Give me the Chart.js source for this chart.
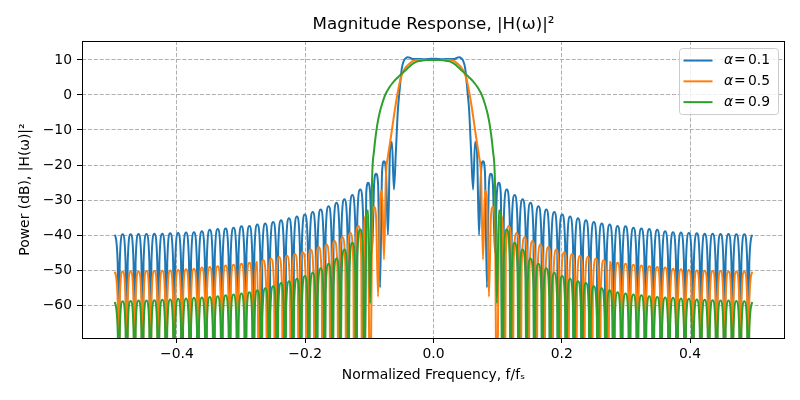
<!DOCTYPE html>
<html>
<head>
<meta charset="utf-8">
<title>Magnitude Response</title>
<script src="https://cdn.jsdelivr.net/npm/chart.js@4/dist/chart.umd.min.js"></script>
<style>
  html, body { margin: 0; padding: 0; background: #fff; }
  #wrap { width: 800px; height: 400px; }
</style>
</head>
<body>
<div id="wrap"><canvas id="chart" width="800" height="400"></canvas></div>
<script>
// positive half of the frequency axis (f/fs); the response is symmetric about 0.
// sidelobe samples: null, shoulder, peak, shoulder, null ...
const freqs = [
  0, 0.0031, 0.0062, 0.0093, 0.0123, 0.0154, 0.0185, 0.0216, 0.0247, 0.0278,
  0.0309, 0.0340, 0.0370, 0.0401, 0.0432, 0.0463, 0.0494, 0.0525, 0.0556, 0.0586,
  0.0617, 0.0648, 0.0679, 0.0710, 0.0741, 0.0772, 0.0802, 0.0833, 0.0864, 0.0895,
  0.0926, 0.0957, 0.0988, 0.1019, 0.1049, 0.1080,
  0.1096, 0.1142, 0.1188, 0.1204, 0.1220, 0.1265, 0.1311, 0.1327,
  0.1343, 0.1389, 0.1435, 0.1451, 0.1466, 0.1512, 0.1558, 0.1574,
  0.1590, 0.1636, 0.1682, 0.1698, 0.1713, 0.1759, 0.1805, 0.1821,
  0.1837, 0.1883, 0.1929, 0.1944, 0.1960, 0.2006, 0.2052, 0.2068,
  0.2084, 0.2130, 0.2175, 0.2191, 0.2207, 0.2253, 0.2299, 0.2315,
  0.2331, 0.2377, 0.2422, 0.2438, 0.2454, 0.2500, 0.2546, 0.2562,
  0.2578, 0.2623, 0.2669, 0.2685, 0.2701, 0.2747, 0.2793, 0.2809,
  0.2825, 0.2870, 0.2916, 0.2932, 0.2948, 0.2994, 0.3040, 0.3056,
  0.3071, 0.3117, 0.3163, 0.3179, 0.3195, 0.3241, 0.3287, 0.3302,
  0.3318, 0.3364, 0.3410, 0.3426, 0.3442, 0.3488, 0.3534, 0.3549,
  0.3565, 0.3611, 0.3657, 0.3673, 0.3689, 0.3735, 0.3780, 0.3796,
  0.3812, 0.3858, 0.3904, 0.3920, 0.3936, 0.3981, 0.4027, 0.4043,
  0.4059, 0.4105, 0.4151, 0.4167, 0.4183, 0.4228, 0.4274, 0.4290,
  0.4306, 0.4352, 0.4398, 0.4414, 0.4429, 0.4475, 0.4521, 0.4537,
  0.4553, 0.4599, 0.4645, 0.4660, 0.4676, 0.4722, 0.4768, 0.4784,
  0.4800, 0.4846, 0.4892, 0.4907, 0.4923, 0.4969
];

// the alpha = 0.5 sidelobes sit about a quarter lobe further out up to f ~ 0.27
const freqs05 = [
  0, 0.0031, 0.0062, 0.0093, 0.0123, 0.0154, 0.0185, 0.0216, 0.0247, 0.0278,
  0.0309, 0.0340, 0.0370, 0.0401, 0.0432, 0.0463, 0.0494, 0.0525, 0.0556, 0.0586,
  0.0617, 0.0648, 0.0679, 0.0710, 0.0741, 0.0772, 0.0802, 0.0833, 0.0864, 0.0895,
  0.0926, 0.0957, 0.0988, 0.1019, 0.1049, 0.1080,
  0.1111, 0.1127, 0.1173, 0.1219, 0.1235, 0.1250, 0.1296, 0.1342,
  0.1358, 0.1374, 0.1420, 0.1466, 0.1481, 0.1497, 0.1543, 0.1589,
  0.1605, 0.1621, 0.1667, 0.1713, 0.1728, 0.1744, 0.1790, 0.1836,
  0.1852, 0.1868, 0.1914, 0.1959, 0.1975, 0.1991, 0.2037, 0.2083,
  0.2099, 0.2115, 0.2160, 0.2206, 0.2222, 0.2238, 0.2284, 0.2330,
  0.2346, 0.2362, 0.2407, 0.2453, 0.2469, 0.2485, 0.2531, 0.2577,
  0.2593, 0.2608, 0.2654, 0.2700, 0.2716, 0.2747, 0.2778, 0.2809,
  0.2825, 0.2870, 0.2916, 0.2932, 0.2948, 0.2994, 0.3040, 0.3056,
  0.3071, 0.3117, 0.3163, 0.3179, 0.3195, 0.3241, 0.3287, 0.3302,
  0.3318, 0.3364, 0.3410, 0.3426, 0.3442, 0.3488, 0.3534, 0.3549,
  0.3565, 0.3611, 0.3657, 0.3673, 0.3689, 0.3735, 0.3780, 0.3796,
  0.3812, 0.3858, 0.3904, 0.3920, 0.3936, 0.3981, 0.4027, 0.4043,
  0.4059, 0.4105, 0.4151, 0.4167, 0.4183, 0.4228, 0.4274, 0.4290,
  0.4306, 0.4352, 0.4398, 0.4414, 0.4429, 0.4475, 0.4521, 0.4537,
  0.4553, 0.4599, 0.4645, 0.4660, 0.4676, 0.4722, 0.4768, 0.4784,
  0.4800, 0.4846, 0.4892, 0.4907, 0.4923, 0.4969
];

// power in dB at each frequency above (nulls fall well below the plot)
const alpha01 = [
  10.35, 10.35, 10.3, 10.25, 10.2, 10.2, 10.25, 10.3, 10.3, 10.25,
  10.25, 10.35, 10.65, 10.75, 10.5, 9.7, 7.6, 2.0, -4.5, -16, -27,
  -13.4, -16.5, -40, -22, -18.9, -22, -55, -25.5, -22.5, -25.5, -45, -28, -25.1, -28.1, -100,
  -35.3, -27.0, -35.3, -100,
  -36.9, -28.6, -36.9, -100,
  -38.1, -29.8, -38.1, -100,
  -39.1, -30.8, -39.1, -100,
  -40.1, -31.8, -40.1, -100,
  -41.0, -32.7, -41.0, -100,
  -41.7, -33.4, -41.7, -100,
  -42.4, -34.1, -42.4, -100,
  -43.0, -34.7, -43.0, -100,
  -43.5, -35.2, -43.5, -100,
  -44.1, -35.8, -44.1, -100,
  -44.6, -36.3, -44.6, -100,
  -45.0, -36.7, -45.0, -100,
  -45.3, -37.0, -45.3, -100,
  -45.7, -37.4, -45.7, -100,
  -45.8, -37.5, -45.8, -100,
  -46.2, -37.9, -46.2, -100,
  -46.4, -38.1, -46.4, -100,
  -46.6, -38.3, -46.6, -100,
  -46.8, -38.5, -46.8, -100,
  -47.2, -38.9, -47.2, -100,
  -47.5, -39.2, -47.5, -100,
  -47.6, -39.3, -47.6, -100,
  -47.7, -39.4, -47.7, -100,
  -47.8, -39.5, -47.8, -100,
  -47.9, -39.6, -47.9, -100,
  -47.9, -39.6, -47.9, -100,
  -48.0, -39.7, -48.0, -100,
  -48.0, -39.7, -48.0, -100,
  -48.1, -39.8, -48.1, -100,
  -48.1, -39.8, -48.1, -100,
  -48.2, -39.9
];

const alpha05 = [
  10.0, 10.0, 10.0, 10.0, 10.0, 10.0, 10.0, 10.0, 10.0, 9.95,
  9.8, 9.5, 9.0, 8.5, 7.9, 7.0, 5.7, 3.7, 0.9, -2.3,
  -6.0, -10.0, -13.8, -17.5, -23, -47,
  -27.3, -30.3, -57.6, -35, -32.0, -35, -100, -38.5, -34.4, -38.5,
  -100, -45.7, -37.4, -45.7,
  -100, -47.7, -39.4, -47.7,
  -100, -48.9, -40.6, -48.9,
  -100, -50.0, -41.7, -50.0,
  -100, -51.0, -42.7, -51.0,
  -100, -51.7, -43.4, -51.7,
  -100, -52.4, -44.1, -52.4,
  -100, -53.2, -44.9, -53.2,
  -100, -53.7, -45.4, -53.7,
  -100, -54.2, -45.9, -54.2,
  -100, -54.6, -46.3, -54.6,
  -100, -55.1, -46.8, -55.1,
  -100, -55.5, -47.2, -55.5,
  -100, -47.6, -50.6, -100,
  -56.2, -47.9, -56.2, -100,
  -56.5, -48.2, -56.5, -100,
  -56.8, -48.5, -56.8, -100,
  -57.0, -48.7, -57.0, -100,
  -57.2, -48.9, -57.2, -100,
  -57.4, -49.1, -57.4, -100,
  -57.6, -49.3, -57.6, -100,
  -57.9, -49.6, -57.9, -100,
  -58.1, -49.8, -58.1, -100,
  -58.3, -50.0, -58.3, -100,
  -58.4, -50.1, -58.4, -100,
  -58.5, -50.2, -58.5, -100,
  -58.6, -50.3, -58.6, -100,
  -58.6, -50.3, -58.6, -100,
  -58.7, -50.4, -58.7, -100,
  -58.7, -50.4, -58.7, -100,
  -58.7, -50.4, -58.7, -100,
  -58.8, -50.5
];

const alpha09 = [
  10.0, 10.0, 10.0, 10.0, 9.95, 9.9, 9.8, 9.7, 9.6, 9.4,
  9.1, 8.7, 8.2, 7.7, 7.1, 6.6, 6.1, 5.6, 5.0, 4.5,
  3.9, 3.2, 2.4, 1.5, 0.5, -0.9, -2.6, -4.6, -7.2, -10.8,
  -15.8, -24, -59.5, -33.0, -34.0, -100,
  -46.7, -38.4, -46.7, -100,
  -50.5, -42.2, -50.5, -100,
  -52.4, -44.1, -52.4, -100,
  -55.0, -46.7, -55.0, -100,
  -56.5, -48.2, -56.5, -100,
  -57.8, -49.5, -57.8, -100,
  -59.1, -50.8, -59.1, -100,
  -60.0, -51.7, -60.0, -100,
  -60.8, -52.5, -60.8, -100,
  -61.5, -53.2, -61.5, -100,
  -62.0, -53.7, -62.0, -100,
  -62.9, -54.6, -62.9, -100,
  -63.5, -55.2, -63.5, -100,
  -64.1, -55.8, -64.1, -100,
  -64.6, -56.3, -64.6, -100,
  -65.0, -56.7, -65.0, -100,
  -65.3, -57.0, -65.3, -100,
  -65.5, -57.2, -65.5, -100,
  -65.8, -57.5, -65.8, -100,
  -66.0, -57.7, -66.0, -100,
  -66.1, -57.8, -66.1, -100,
  -66.2, -57.9, -66.2, -100,
  -66.4, -58.1, -66.4, -100,
  -66.5, -58.2, -66.5, -100,
  -66.7, -58.4, -66.7, -100,
  -66.8, -58.5, -66.8, -100,
  -66.9, -58.6, -66.9, -100,
  -67.0, -58.7, -67.0, -100,
  -67.0, -58.7, -67.0, -100,
  -67.1, -58.8, -67.1, -100,
  -67.2, -58.9, -67.2, -100,
  -67.4, -59.1
];

const seriesLabels = ["α = 0.1", "α = 0.5", "α = 0.9"];
const seriesColors = ["#1f77b4", "#ff7f0e", "#2ca02c"];
const xTicks = [-0.4, -0.2, 0.0, 0.2, 0.4];
const yTicks = [10, 0, -10, -20, -30, -40, -50, -60];

const FONT = "'DejaVu Sans', sans-serif";
Chart.defaults.font.family = FONT;
Chart.defaults.color = "#000";

// mirror the positive half onto negative frequencies
const toPoints = (fs, vals) => {
  const pts = [];
  for (let j = fs.length - 1; j > 0; j--) pts.push({ x: -fs[j], y: vals[j] });
  for (let j = 0; j < fs.length; j++) pts.push({ x: fs[j], y: vals[j] });
  return pts;
};

const fmt = (v, digits) => {
  const s = Math.abs(v).toFixed(digits);
  return v < 0 ? "\u2212" + s : s;
};

const frameAndLegend = {
  id: "frameAndLegend",
  afterDraw(chart) {
    const ctx = chart.ctx;
    const a = chart.chartArea;
    ctx.save();
    ctx.strokeStyle = "#000";
    ctx.lineWidth = 1;
    ctx.strokeRect(Math.round(a.left) + 0.5, Math.round(a.top) + 0.5,
      Math.round(a.right - a.left) - 1, Math.round(a.bottom - a.top));

    const bx = a.right - 105.5, by = a.top + 7.5, bw = 99, bh = 66, r = 3;
    ctx.beginPath();
    ctx.moveTo(bx + r, by);
    ctx.arcTo(bx + bw, by, bx + bw, by + bh, r);
    ctx.arcTo(bx + bw, by + bh, bx, by + bh, r);
    ctx.arcTo(bx, by + bh, bx, by, r);
    ctx.arcTo(bx, by, bx + bw, by, r);
    ctx.closePath();
    ctx.fillStyle = "rgba(255,255,255,0.8)";
    ctx.fill();
    ctx.strokeStyle = "#cccccc";
    ctx.stroke();

    seriesLabels.forEach((label, i) => {
      const y = by + 12 + i * 20.8;
      ctx.strokeStyle = seriesColors[i];
      ctx.lineWidth = 2;
      ctx.beginPath();
      ctx.moveTo(bx + 4, y);
      ctx.lineTo(bx + 33, y);
      ctx.stroke();
      ctx.fillStyle = "#000";
      ctx.textBaseline = "middle";
      ctx.textAlign = "left";
      const tx = bx + 44.5;
      const parts = label.split(" ");
      ctx.font = "italic 13.9px " + FONT;
      ctx.fillText(parts[0], tx, y);
      ctx.font = "13.9px " + FONT;
      ctx.fillText(parts[1], tx + 10, y);
      ctx.fillText(parts[2], tx + 24, y);
    });
    ctx.restore();
  }
};

new Chart(document.getElementById("chart"), {
  type: "line",
  data: {
    datasets: [
      [freqs, alpha01], [freqs05, alpha05], [freqs, alpha09]
    ].map(([fs, vals], i) => ({
      label: seriesLabels[i],
      data: toPoints(fs, vals),
      borderColor: seriesColors[i],
      backgroundColor: seriesColors[i],
      borderWidth: 2,
      pointRadius: 0,
      cubicInterpolationMode: "monotone",
      fill: false,
      order: 3 - i
    }))
  },
  options: {
    responsive: false,
    animation: false,
    events: [],
    layout: { padding: { left: 0, right: 15, top: 0, bottom: 0 } },
    plugins: {
      legend: { display: false },
      tooltip: { enabled: false },
      title: {
        display: true,
        fullSize: false,
        text: "Magnitude Response, |H(ω)|²",
        color: "#000",
        font: { size: 16.7, weight: "normal" },
        padding: { top: 15, bottom: 6 }
      }
    },
    scales: {
      x: {
        type: "linear",
        min: -0.548,
        max: 0.548,
        afterBuildTicks: (s) => { s.ticks = xTicks.map((v) => ({ value: v })); },
        afterFit: (s) => { s.height = 62; },
        ticks: {
          font: { size: 13.9 },
          color: "#000",
          padding: 3,
          maxRotation: 0,
          autoSkip: false,
          callback: (v) => fmt(v, 1)
        },
        grid: { color: "#b0b0b0", lineWidth: 1, tickColor: "#000", tickLength: 5, tickWidth: 1 },
        border: { display: false, dash: [4.1, 1.8] },
        title: {
          display: true,
          text: "Normalized Frequency, f/fₛ",
          font: { size: 13.9 },
          color: "#000",
          padding: { top: 0, bottom: 16 }
        }
      },
      y: {
        type: "linear",
        min: -69.4,
        max: 15.4,
        afterBuildTicks: (s) => { s.ticks = yTicks.map((v) => ({ value: v })); },
        afterFit: (s) => { s.width = 82; },
        ticks: {
          font: { size: 13.9 },
          color: "#000",
          padding: 5,
          autoSkip: false,
          callback: (v) => fmt(v, 0)
        },
        grid: { color: "#b0b0b0", lineWidth: 1, tickColor: "#000", tickLength: 5, tickWidth: 1 },
        border: { display: false, dash: [4.1, 1.8] },
        title: {
          display: true,
          text: "Power (dB), |H(ω)|²",
          font: { size: 13.9 },
          color: "#000",
          padding: { top: 17, bottom: 0 }
        }
      }
    }
  },
  plugins: [frameAndLegend]
});
</script>
</body>
</html>
